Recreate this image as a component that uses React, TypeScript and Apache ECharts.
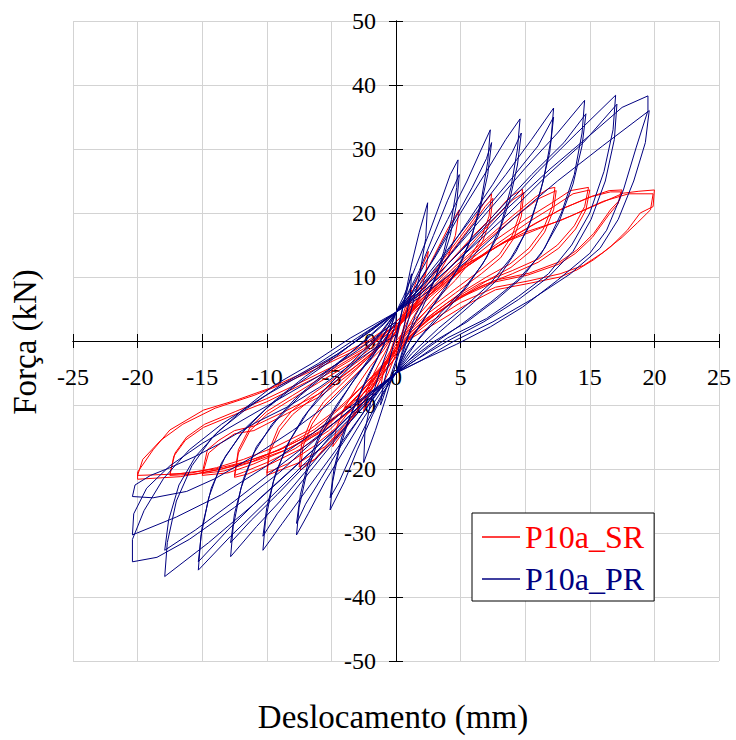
import React, { useEffect, useRef } from "react";
import * as echarts from "echarts";

// ---- Tick values ----
const X_MIN = -25, X_MAX = 25, X_STEP = 5;
const Y_MIN = -50, Y_MAX = 50, Y_STEP = 10;
const SERIES_NAMES = ["P10a_SR", "P10a_PR"];
const X_TITLE = "Deslocamento (mm)";
const Y_TITLE = "Força (kN)";

// ---- P10a_SR (red) cycles: [displacement mm, force kN] ----
const SR_01 = [[0,0],[0.5,4],[1.2,8],[1.0,5],[0.5,1.5],[0,-2],[-0.6,-5],[-1.2,-7.5],[-1.0,-5],[-0.5,-2],[0,1]];
const SR_02 = [[0,1],[0.8,5],[1.6,9.5],[2.5,14],[2.3,10.5],[1.8,7],[1,3.5],[0.3,0.5],[0,-1.5],[-0.8,-4.5],[-1.7,-8],[-2.5,-11],[-2.3,-8],[-1.7,-5],[-0.9,-2],[0,1.5]];
const SR_03 = [[0,1.5],[1,5.5],[2,9.5],[3,13.5],[4,17.5],[4.9,20.5],[4.6,16.5],[4,13],[3,9.5],[2,6],[1,2.5],[0,-1],[-1,-4.5],[-2,-8],[-3,-11],[-4,-14],[-4.9,-16.5],[-4.6,-13.5],[-4,-10.5],[-3,-7],[-2,-4],[-1,-1.5],[0,1.5]];
const SR_04 = [[0,2],[1.5,6.5],[3,11],[4.5,15],[6,19],[6.8,21.5],[7.4,23],[7.2,19.5],[6.6,16],[5.7,13],[4.5,10],[3,7],[1.5,3.5],[0,0],[-1,-3.5],[-2.2,-8],[-3.5,-12],[-5,-15.5],[-6.3,-18.5],[-7.4,-20.2],[-7.2,-16.5],[-6.5,-13],[-5.5,-10],[-4,-7],[-2.5,-4],[-1,-1],[0,1.5]];
const SR_04b = [[0,1.5],[1.5,6],[3,10.5],[4.5,14.5],[6,18.5],[6.9,21],[7.5,22.3],[7.3,19],[6.7,15.5],[5.8,12.5],[4.6,9.5],[3.1,6.5],[1.6,3],[0,-0.5],[-1,-4],[-2.2,-8.5],[-3.5,-12.5],[-5,-16],[-6.3,-18.5],[-7.5,-19.7],[-7.3,-16],[-6.6,-12.5],[-5.6,-9.5],[-4.1,-6.5],[-2.6,-3.5],[-1,-0.5],[0,1.5]];
const SR_05 = [[0,2],[2,7],[4,12],[6,16.5],[7.5,19.5],[8.8,22.5],[9.8,23.7],[9.6,20],[9,16.5],[8,13.5],[6.5,11],[4.5,8],[2.5,5],[1,2],[0,-1],[-1,-4.5],[-2.5,-9.5],[-4,-13.5],[-5.5,-16.5],[-7.5,-19],[-10,-21],[-9.8,-17.5],[-9,-14],[-8,-11.5],[-6.5,-9],[-4.5,-6],[-2.5,-3],[-1,-0.5],[0,2]];
const SR_05b = [[0,2],[2,6.5],[4.2,11.5],[6.2,16],[7.8,19.5],[9,22],[9.9,23.2],[9.7,19.5],[9.1,16],[8.1,13],[6.6,10.5],[4.6,7.5],[2.6,4.5],[1,1.5],[0,-1],[-1.4,-5],[-3,-9.5],[-4.6,-13.5],[-6.4,-16.5],[-8.4,-19.2],[-10,-20.6],[-9.8,-17],[-9.1,-13.5],[-8.1,-11],[-6.6,-8.5],[-4.6,-5.6],[-2.6,-2.7],[-1,0],[0,2]];
const SR_06 = [[0,2.5],[2,6.5],[4.5,11.5],[7,16],[9,19.5],[10.8,22.5],[11.8,23.8],[12.3,24],[12.1,21],[11.4,17.5],[10.3,14.5],[8.8,12],[7,10],[5,7.5],[3,4.5],[1.2,1.5],[0,-1.5],[-1.5,-5.5],[-3.2,-10],[-5.2,-14],[-7.5,-17],[-9.8,-19.3],[-11.5,-20.8],[-12.5,-21.3],[-12.2,-17.5],[-11.3,-14],[-10,-11.5],[-8,-9],[-6,-6.5],[-3.5,-3.5],[-1.5,-0.5],[0,2.5]];
const SR_06b = [[0,2],[2.2,6.5],[4.7,11.5],[7.2,16],[9.3,19.5],[11,22.2],[12.4,23.5],[12.2,20.5],[11.5,17],[10.4,14],[8.9,11.5],[7.1,9.5],[5.1,7],[3.1,4.2],[1.3,1.2],[0,-1.5],[-1.7,-5.5],[-3.5,-9.8],[-5.6,-13.8],[-7.8,-16.8],[-10,-19],[-11.8,-20.5],[-12.5,-21],[-12.2,-17],[-11.3,-13.5],[-10,-11],[-8,-8.5],[-6,-6],[-3.5,-3],[-1.5,0],[0,2]];
const SR_07 = [[0,2.5],[2.5,7],[5,11.5],[7.5,15.5],[10,19],[12,21.5],[13.5,23.5],[14.9,24],[14.6,21],[13.8,18],[12.5,15],[11,12.8],[9,11],[6.5,9],[4,6],[2,3],[0.5,0],[0,-1.5],[-1.8,-6],[-3.8,-10.5],[-6,-14.2],[-8.5,-17],[-11,-19.2],[-13,-20.6],[-15,-21],[-14.5,-17.5],[-13.6,-16],[-12.5,-14.5],[-11,-14],[-8.4,-11.3],[-5.9,-8.7],[-3.5,-5],[-1.5,-1.5],[0,2]];
const SR_07b = [[0,2],[2.7,7],[5.2,11.2],[7.7,15],[10.2,18.5],[12.2,21],[13.7,23],[15,23.6],[14.7,20.5],[13.9,17.5],[12.6,14.5],[11,12.3],[9,10.5],[6.5,8.5],[4,5.5],[2,2.6],[0.5,-0.3],[-1.9,-5.6],[-4,-10],[-6.3,-13.8],[-8.8,-16.7],[-11.3,-19],[-13.3,-20.3],[-15,-20.7],[-14.6,-17],[-13.7,-15.5],[-12.5,-14],[-11,-13.3],[-8.4,-10.8],[-5.9,-8.2],[-3.5,-4.6],[-1.5,-1.2],[0,2]];
const SR_08 = [[0,2.5],[2.5,7],[5,11],[8,15],[10.5,18],[12.7,20.5],[15,22.5],[16.5,23.5],[17.5,23.6],[17.3,22],[16.6,20.5],[15.3,16.8],[14,14.2],[12.7,12.4],[10.3,10.6],[7.7,9.5],[5,7],[2.5,3.5],[1,0.5],[0,-2],[-2,-6.5],[-4.2,-11],[-6.5,-14.5],[-9,-17],[-11.5,-18.8],[-13.5,-20],[-15.5,-20.8],[-17.5,-21],[-17.2,-18],[-16.3,-15.5],[-14.9,-13.5],[-12.5,-11.5],[-10,-9.5],[-7.5,-7],[-5,-4.5],[-2.5,-1.5],[0,2.5]];
const SR_08b = [[0,2.5],[2.6,7.2],[5.2,11.3],[8.2,15.3],[10.7,18.3],[12.9,20.7],[15.2,22.6],[16.6,23.3],[17.4,23.3],[17.2,21.5],[16.5,19.8],[15.2,16.2],[13.9,13.7],[12.6,12],[10.2,10.3],[7.6,9.2],[4.9,6.7],[2.4,3.2],[0.9,0.3],[0,-2],[-2.2,-6.3],[-4.5,-10.6],[-6.8,-14],[-9.4,-16.6],[-11.8,-18.5],[-13.9,-19.8],[-15.8,-20.6],[-17.5,-20.8],[-17.1,-17.5],[-16.2,-15],[-14.8,-13],[-12.4,-11],[-10,-9],[-7.5,-6.6],[-5,-4.1],[-2.5,-1.2],[0,2.5]];
const SR_09 = [[0,3],[2,7],[5,11.5],[8,15],[10,17],[12.7,18.8],[15.2,21],[17.6,23.1],[18.8,23.4],[20,23.6],[19.9,21],[18.9,20],[17.9,17.3],[16.6,14.7],[15.3,12.7],[14,11.1],[12.7,10],[10.3,9],[7.7,8],[5.2,5.4],[2.6,2.2],[1,0.2],[0,-2.5],[-1.5,-6.5],[-3.5,-11],[-6,-14.5],[-8.5,-17],[-11,-18.8],[-13.5,-20],[-16.7,-21.2],[-20,-21.6],[-20,-20.5],[-18.8,-17],[-17.5,-13.9],[-14.9,-10.8],[-12.3,-9.2],[-9.8,-7.4],[-7.2,-5],[-4.6,-2.5],[-2.2,0],[0,3]];
const SR_10 = [[0,3],[2.5,7.5],[5.5,12],[8.5,15.5],[11,17.5],[13.5,19.5],[16,21.8],[18,23],[19.9,23],[19.7,20.5],[18.7,18.5],[17.5,16.2],[16,13.8],[14.5,11.8],[12.7,10.5],[10.3,9.4],[7.7,8.4],[5,6],[2.5,2.8],[0.8,0],[0,-2.5],[-1.8,-6.8],[-4,-11],[-6.5,-14.5],[-9,-17],[-11.5,-18.8],[-14,-20],[-17,-20.8],[-20,-21],[-19.6,-18.5],[-18.2,-15.5],[-16.5,-13],[-14,-10.5],[-11,-8.5],[-8.5,-6.5],[-6,-4.2],[-3.5,-1.8],[-1.5,0.5],[0,2.5]];

// ---- P10a_PR (blue) cycles ----
const PR_01 = [[0,0],[0.5,5],[1.0,9],[1.2,10.5],[1.1,7],[0.6,2],[0,-3],[-0.6,-6.5],[-1.1,-9.5],[-1.2,-10],[-1.0,-7],[-0.5,-3],[0,1]];
const PR_02 = [[0,1],[0.5,5],[1.2,12],[1.8,17],[2.45,21.6],[2.3,16],[1.8,10],[1.2,5],[0.5,0],[0,-3.5],[-0.8,-9],[-1.6,-14],[-2.5,-19],[-2.4,-14],[-1.9,-9],[-1.2,-4.5],[-0.5,-0.5],[0,3]];
const PR_03 = [[0,4.5],[0.6,7],[1.5,11.5],[2.5,16.5],[3.5,22],[4.2,26],[4.8,28.3],[4.7,24],[4.3,19],[3.7,14],[3,9.5],[2,5],[1,1],[0,-5],[-0.8,-7.5],[-1.8,-11.5],[-3,-17],[-4,-22],[-5.1,-26.4],[-4.9,-22],[-4.4,-17],[-3.6,-12],[-2.6,-7.5],[-1.5,-3],[-0.5,1.5],[0,4.5]];
const PR_03b = [[0,4.5],[0.8,7],[1.8,11],[2.9,16.5],[4,22],[4.9,26],[4.7,21.5],[4.2,16.5],[3.5,12],[2.6,8],[1.5,4],[0.5,-1.5],[0,-5],[-1,-8],[-2.2,-12.5],[-3.4,-17.5],[-4.4,-22],[-5.1,-24.5],[-4.8,-20],[-4.2,-15],[-3.3,-10.5],[-2.2,-5.5],[-1,-1],[0,4.5]];
const PR_04 = [[0,4.5],[1,7.5],[2.5,13],[4,19],[5.5,25],[6.5,29.5],[7.3,33],[7.1,28],[6.6,22],[5.9,16.5],[5,12],[3.8,8],[2.5,4.5],[1.2,0.5],[0,-5],[-1,-7.5],[-2.5,-12],[-4,-17],[-5.5,-22],[-6.8,-27],[-7.7,-30.3],[-7.5,-26],[-6.9,-20.5],[-6,-15.5],[-4.8,-11],[-3.4,-6.5],[-2,-2.5],[-0.8,1.5],[0,4.5]];
const PR_04b = [[0,4.5],[1.2,7.5],[2.8,12.5],[4.4,18.5],[5.9,24],[7,28.5],[7.4,31],[7.1,26],[6.5,20.5],[5.7,15.5],[4.7,11],[3.5,7.5],[2.2,3.5],[0.8,-1],[0,-5],[-1.3,-7.5],[-2.8,-12],[-4.3,-16.5],[-5.8,-21.5],[-7,-25.5],[-7.7,-28.5],[-7.4,-24],[-6.8,-19],[-5.8,-14],[-4.6,-10],[-3.2,-6],[-1.7,-2],[0,4.5]];
const PR_05 = [[0,4.5],[1.2,7.5],[3,13],[5,20],[7,26.5],[8.5,31.5],[9.6,34.7],[9.4,30],[8.9,24],[8.1,18],[7,13],[5.5,8.5],[4,5],[2.3,1.5],[0.8,-2],[0,-5],[-1.2,-7.5],[-3,-12.5],[-5,-18],[-7,-23.5],[-8.8,-28.5],[-10.3,-32.7],[-10.1,-28],[-9.5,-22],[-8.5,-16.5],[-7.2,-12],[-5.5,-7.5],[-3.5,-3.5],[-1.5,0.5],[0,4.5]];
const PR_05b = [[0,4.5],[1.5,7.5],[3.5,12.5],[5.5,18.5],[7.5,24.5],[9,29.5],[9.7,32.5],[9.4,27.5],[8.8,22],[7.9,16.5],[6.7,12],[5.2,8],[3.5,4.5],[1.8,0.5],[0,-5],[-1.5,-8],[-3.5,-12.5],[-5.5,-17.5],[-7.5,-22.5],[-9.2,-27],[-10.3,-30.5],[-10,-26],[-9.3,-20.5],[-8.2,-15.5],[-6.8,-11],[-5,-7],[-3,-3],[-1.2,1],[0,4.5]];
const PR_06 = [[0,4.5],[1.3,7.5],[3.5,13],[6,19.5],[8.5,26],[10.5,31.5],[12.2,36.4],[12,31.5],[11.4,25],[10.5,19],[9.3,14],[7.8,9.5],[6,6],[4,2.5],[2,-1],[0,-5],[-1.5,-8],[-3.5,-12.5],[-6,-18],[-8.5,-24],[-10.8,-29],[-12.8,-33.7],[-12.6,-29],[-12,-23],[-11,-17.5],[-9.6,-13],[-7.8,-9],[-5.5,-5],[-3,-1],[-1,2.5],[0,4.5]];
const PR_06b = [[0,4.5],[1.8,8],[4,13],[6.5,19.5],[9,25.5],[11,30.5],[12.2,35],[11.9,29.5],[11.2,23.5],[10.2,17.5],[8.9,13],[7.3,9],[5.4,5.5],[3.3,2],[1.2,-2],[0,-5],[-2,-8.5],[-4.3,-13],[-6.8,-19],[-9.2,-24],[-11.2,-28],[-12.8,-31.5],[-12.5,-27],[-11.8,-21.5],[-10.8,-16.5],[-9.3,-12.5],[-7.4,-8.5],[-5,-4.5],[-2.5,0],[0,4.5]];
const PR_07 = [[0,4.5],[1.5,7.5],[4,13],[7,20],[10,27],[12.5,32.5],[14.6,37.6],[14.4,32.5],[13.8,26],[12.8,20],[11.5,14.5],[9.8,10],[7.8,6.5],[5.5,3],[3,0],[1,-3],[0,-5],[-1.8,-8.5],[-4,-13],[-7,-19],[-10,-25],[-12.8,-30.5],[-15.3,-35.8],[-15.1,-30.5],[-14.5,-24.5],[-13.5,-19],[-12,-14.5],[-10,-10.5],[-7.8,-7],[-5,-3],[-2.5,1],[0,4.5]];
const PR_07b = [[0,4.5],[2,8],[4.5,13],[7.5,19.5],[10.5,26],[13,31],[14.7,35.5],[14.4,30.5],[13.7,24.5],[12.6,18.5],[11.2,13.5],[9.4,9.5],[7.3,6],[5,2.5],[2.5,-1],[0,-5],[-2,-8.5],[-4.5,-13.5],[-7.5,-19],[-10.5,-24.5],[-13,-29.5],[-15.3,-34.5],[-15,-29],[-14.3,-23],[-13.2,-18],[-11.6,-13.5],[-9.5,-9.5],[-7,-5.5],[-4.5,-2],[-2,1.5],[0,4.5]];
const PR_08 = [[0,4.5],[1.8,7.5],[4.5,13],[8,20],[11,26.5],[14,32.5],[17,38.4],[16.8,33],[16.1,26.5],[15,20],[13.6,15],[11.8,10.5],[9.5,7],[7,3.5],[4,0.5],[1.5,-3],[0,-5],[-2,-8.5],[-4.5,-13.5],[-8,-20],[-11,-25.5],[-14.5,-31.5],[-17.9,-36.8],[-17.7,-31.5],[-17,-25],[-15.8,-19.5],[-14.2,-15],[-12,-11],[-9.5,-7],[-6.5,-3.5],[-3.5,0.5],[0,4.5]];
const PR_08b = [[0,4.5],[2,7.5],[5,13],[8.5,19.5],[11.5,25.5],[14.5,31],[17.1,37],[16.9,31.5],[16.2,25],[15.1,19],[13.7,14],[11.8,10],[9.5,6.5],[6.8,3],[4,0],[1.5,-3],[0,-5],[-2.5,-9],[-5.5,-14],[-9,-19.5],[-12.5,-25],[-15.5,-29.5],[-17.9,-32.7],[-17.6,-28],[-16.8,-22.5],[-15.5,-18],[-13.7,-14],[-11.5,-10.5],[-9,-7],[-6,-3.5],[-3,0.5],[0,4.5]];
const PR_09 = [[0,4.5],[2,7.5],[5,13],[8.5,20.5],[12,27],[15.5,33],[17.5,36.5],[19.5,38.3],[19.5,36],[18.6,30.3],[17.6,23.6],[16.3,17.3],[15,13.7],[12.5,9.5],[9.8,5.3],[7.3,2.2],[4.7,-0.5],[2,-3],[0,-5],[-2.5,-9],[-5.5,-14],[-9,-20.5],[-12.5,-26],[-16,-31],[-18.5,-33.8],[-20.4,-34.5],[-20.4,-31],[-19.5,-26.5],[-18,-21.5],[-16,-17],[-13.5,-13],[-10.5,-9],[-7.5,-5.5],[-4.5,-2],[-2,1.5],[0,4.5]];
const PR_10 = [[0,4.5],[2,7],[5.5,12.5],[9,19],[12.5,25],[16,30.5],[19.6,36],[19.3,31],[18.4,25],[17.2,19],[15.8,14.5],[13.5,10.5],[10.5,6.5],[7.5,3],[4.5,0],[2,-3],[0,-5],[-3,-9.5],[-6.5,-14.5],[-10,-19.5],[-13.5,-24],[-17,-27.5],[-20.4,-30.3],[-20.3,-27],[-19.3,-23],[-17.5,-19.5],[-15,-16],[-12,-12.5],[-9,-9],[-6,-5.5],[-3,-1.5],[0,3]];
const PR_11 = [[0,3],[-2,-3],[-5,-9.5],[-8,-14],[-11,-18],[-14,-21.5],[-16.2,-23.5],[-18.8,-24.5],[-20.4,-24.3],[-20.2,-22.5],[-19,-21],[-17.5,-19.8],[-15.5,-18],[-13.6,-16],[-11,-12.9],[-8.4,-10.3],[-5.9,-7.2],[-3,-3],[0,1]];

const SR_CYCLES = [SR_01, SR_02, SR_03, SR_04, SR_04b, SR_05, SR_05b, SR_06, SR_06b, SR_07, SR_07b, SR_08, SR_08b, SR_09, SR_10];
const PR_CYCLES = [PR_01, PR_02, PR_03, PR_03b, PR_04, PR_04b, PR_05, PR_05b, PR_06, PR_06b, PR_07, PR_07b, PR_08, PR_08b, PR_09, PR_10, PR_11];

const FONT = "'Liberation Serif', 'DejaVu Serif', serif";
const RED = "#ff0000";
const BLUE = "#000080";

// Layout of the plot box (pixels)
const GRID = { left: 73, right: 17, top: 21, bottom: 79 };
const W = 736, H = 740;

export default function App() {
  const ref = useRef<HTMLDivElement>(null);
  useEffect(() => {
    if (!ref.current) return;
    const chart = echarts.init(ref.current, undefined, { renderer: "svg" });
    const gridCol = "#d3d3d3";
    const plotW = W - GRID.left - GRID.right;
    const plotH = H - GRID.top - GRID.bottom;
    // shift the axes from the box edges to the zero lines
    const xOffset = -plotH * (0 - Y_MIN) / (Y_MAX - Y_MIN);
    const yOffset = -plotW * (0 - X_MIN) / (X_MAX - X_MIN);
    const baseX = { type: "value", min: X_MIN, max: X_MAX, interval: X_STEP, position: "bottom", offset: xOffset };
    const baseY = { type: "value", min: Y_MIN, max: Y_MAX, interval: Y_STEP, position: "left", offset: yOffset };
    const line = { onZero: false, lineStyle: { color: "#000", width: 1 } };
    chart.setOption({
      animation: false,
      backgroundColor: "#fff",
      grid: { ...GRID, containLabel: false },
      xAxis: [
        {
          ...baseX,
          axisLine: line,
          axisTick: { show: true, inside: false, length: 7, lineStyle: { color: "#000" } },
          axisLabel: { fontSize: 24, fontFamily: FONT, color: "#000", margin: 24 },
          splitLine: { show: true, lineStyle: { color: gridCol, width: 1 } },
        },
        {
          ...baseX,
          axisLine: line,
          axisTick: { show: true, inside: true, length: 7, lineStyle: { color: "#000" } },
          axisLabel: { show: false },
          splitLine: { show: false },
        },
      ],
      yAxis: [
        {
          ...baseY,
          axisLine: line,
          axisTick: { show: true, inside: false, length: 7, lineStyle: { color: "#000" } },
          axisLabel: { fontSize: 24, fontFamily: FONT, color: "#000", margin: 20 },
          splitLine: { show: true, lineStyle: { color: gridCol, width: 1 } },
        },
        {
          ...baseY,
          axisLine: line,
          axisTick: { show: true, inside: true, length: 7, lineStyle: { color: "#000" } },
          axisLabel: { show: false },
          splitLine: { show: false },
        },
      ],
      legend: {
        left: 472,
        top: 513,
        orient: "vertical",
        icon: "rect",
        itemWidth: 38,
        itemHeight: 1.5,
        itemGap: 10,
        padding: [8, 10, 6, 10],
        borderColor: "#000",
        borderWidth: 1,
        backgroundColor: "#fff",
        textStyle: { fontSize: 32, fontFamily: FONT },
        data: [
          { name: SERIES_NAMES[0], textStyle: { color: RED } },
          { name: SERIES_NAMES[1], textStyle: { color: BLUE } },
        ],
      },
      graphic: [
        {
          type: "text",
          x: 393,
          y: 717,
          style: {
            text: X_TITLE,
            fontSize: 33,
            fontFamily: FONT,
            fill: "#000",
            align: "center",
            verticalAlign: "middle",
          },
        },
        {
          type: "text",
          x: 25,
          y: 342,
          rotation: Math.PI / 2,
          style: {
            text: Y_TITLE,
            fontSize: 33,
            fontFamily: FONT,
            fill: "#000",
            align: "center",
            verticalAlign: "middle",
          },
        },
      ],
      series: [
        {
          name: SERIES_NAMES[0],
          type: "line",
          xAxisIndex: 0,
          yAxisIndex: 0,
          data: SR_CYCLES.flat(),
          showSymbol: false,
          symbol: "none",
          color: RED,
          lineStyle: { color: RED, width: 1 },
          z: 3,
        },
        {
          name: SERIES_NAMES[1],
          type: "line",
          xAxisIndex: 0,
          yAxisIndex: 0,
          data: PR_CYCLES.flat(),
          showSymbol: false,
          symbol: "none",
          color: BLUE,
          lineStyle: { color: BLUE, width: 1 },
          z: 4,
        },
      ],
    });
    return () => chart.dispose();
  }, []);
  return (
    <div
      ref={ref}
      style={{ position: "fixed", left: 0, top: 0, width: W, height: H, background: "#fff" }}
    />
  );
}
